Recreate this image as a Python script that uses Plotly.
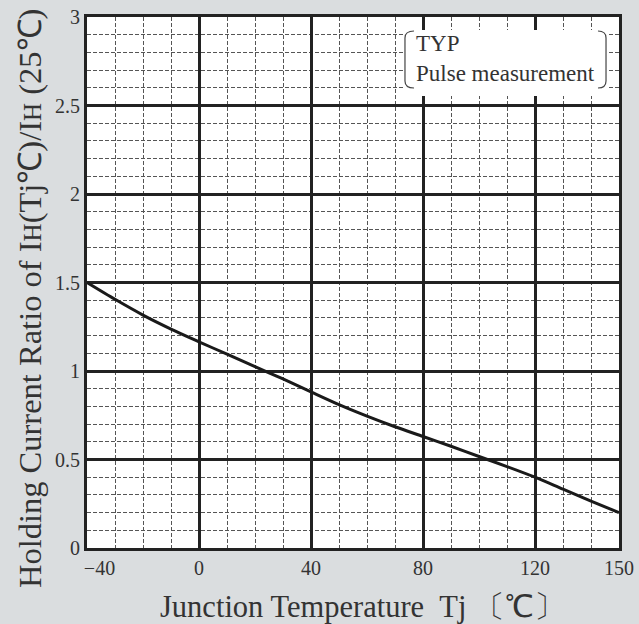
import plotly.graph_objects as go

# ---- data ----
temperature_c = [-40, -30, -20, -10, 0, 10, 20, 30, 40, 50, 60, 70, 80, 90, 100, 110, 120, 130, 140, 150]
holding_ratio = [1.50, 1.405, 1.316, 1.237, 1.165, 1.095, 1.025, 0.955, 0.882, 0.81, 0.745, 0.685, 0.63,
                 0.575, 0.517, 0.46, 0.40, 0.332, 0.265, 0.20]

x_tickvals = [-40, 0, 40, 80, 120, 150]
x_ticktext = ["\u00a0" * 5 + "\u221240", "0", "40", "80", "120", "150"]
y_tickvals = [0, 0.5, 1, 1.5, 2, 2.5, 3]
y_ticktext = ["0", "0.5", "1", "1.5", "2", "2.5", "3"]

x_title = "Junction Temperature\u00a0\u00a0Tj\u00a0〔℃〕"
y_title = ("Holding Current Ratio of I<span style=\"font-size:25px\">H</span>(Tj℃)/"
           "I<span style=\"font-size:25px\">H</span> (25℃)")
note_text = "TYP<br>Pulse measurement"

FONT = "Liberation Serif"
BG = "#dadddf"
INK = "#222222"
TXT = "#333333"

fig = go.Figure()
fig.add_trace(go.Scatter(
    x=temperature_c, y=holding_ratio, mode="lines",
    line=dict(color="#1a1a1a", width=3, shape="spline", smoothing=0.8),
    showlegend=False, hoverinfo="skip"))

fig.update_layout(
    width=639, height=624,
    margin=dict(l=87, r=20, t=17, b=76, autoexpand=False),
    paper_bgcolor=BG, plot_bgcolor="white",
    font=dict(family=FONT, color=TXT, size=20),
    xaxis=dict(
        range=[-40, 150], tickmode="array", tickvals=x_tickvals, ticktext=x_ticktext,
        showgrid=True, gridcolor=INK, gridwidth=2.5,
        showline=True, linecolor=INK, linewidth=3, mirror=True,
        ticks="", zeroline=False, automargin=False,
        tickfont=dict(size=20, family=FONT, color=TXT),
        minor=dict(tick0=-40, dtick=10, showgrid=True, gridcolor="#555555", gridwidth=1, griddash="4px,2px"),
    ),
    yaxis=dict(
        range=[0, 3], tickmode="array", tickvals=y_tickvals, ticktext=y_ticktext,
        showgrid=True, gridcolor=INK, gridwidth=2.5,
        showline=True, linecolor=INK, linewidth=3, mirror=True,
        ticks="", zeroline=False, automargin=False,
        tickfont=dict(size=20, family=FONT, color=TXT),
        minor=dict(tick0=0, dtick=0.1, showgrid=True, gridcolor="#555555", gridwidth=1, griddash="4px,2px"),
    ),
)

# axis titles (as annotations, to match the reference offsets)
fig.add_annotation(xref="paper", yref="paper", x=-0.107, y=0.469, xanchor="center", yanchor="middle",
                   textangle=-90, showarrow=False, text=y_title,
                   font=dict(size=32.5, family=FONT, color=TXT))
fig.add_annotation(xref="paper", yref="paper", x=0.517, y=-0.111, xanchor="center", yanchor="middle",
                   showarrow=False, text=x_title,
                   font=dict(size=30.5, family=FONT, color=TXT))

# note box
fig.add_shape(type="rect", xref="paper", yref="paper", x0=0.594, x1=0.981, y0=0.851, y1=0.9755,
              fillcolor="white", line=dict(width=0), layer="above")
fig.add_shape(type="path", xref="paper", yref="paper",
              path="M 0.6147,0.9736 Q 0.5977,0.9736 0.5977,0.9605 L 0.5977,0.8795 Q 0.5977,0.8663 0.6147,0.8663",
              line=dict(color="#444444", width=1.2), layer="above")
fig.add_shape(type="path", xref="paper", yref="paper",
              path="M 0.9605,0.9736 Q 0.9756,0.9736 0.9756,0.9605 L 0.9756,0.8795 Q 0.9756,0.8663 0.9605,0.8663",
              line=dict(color="#444444", width=1.2), layer="above")
fig.add_annotation(xref="paper", yref="paper", x=0.614, y=0.921, xanchor="left", yanchor="middle",
                   align="left", showarrow=False, text=note_text,
                   font=dict(size=23, family=FONT, color=TXT))

fig.write_html("out.html", config={"displayModeBar": False},
               post_script="document.body.style.margin='0';document.body.style.background='%s';" % BG)
